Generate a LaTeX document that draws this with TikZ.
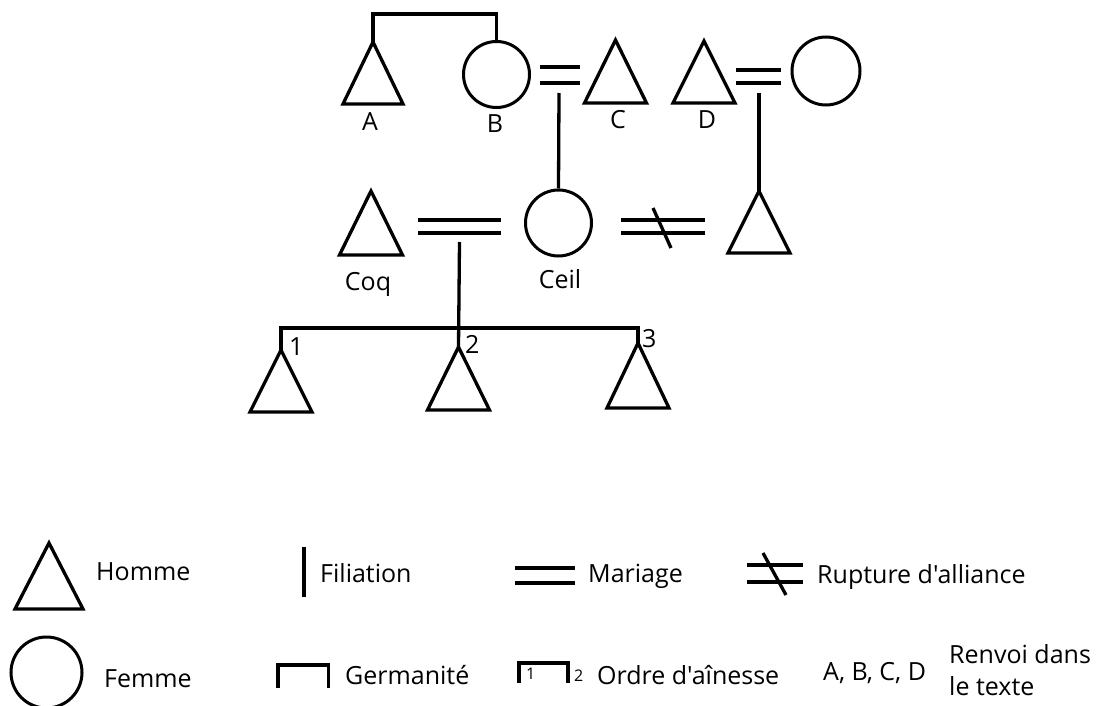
\documentclass[tikz,border=0pt]{standalone}
\usepackage{fontspec}
\setmainfont{Open Sans}[Ligatures=TeXOff]
\usetikzlibrary{calc}
\newcommand\homme[5]{% name, apex x, apex y, base width, height
  \coordinate (#1) at (#2,#3);
  \draw[sym] (#1) -- ++(-#4/2,#5) -- ++(#4,0) -- cycle;}
\newcommand\mariage[5]{% name, centre x, centre y, half width, half gap
  \coordinate (#1) at (#2,#3);
  \draw[sym] ([shift={(-#4,-#5)}]#1) -- ([shift={(#4,-#5)}]#1);
  \draw[sym] ([shift={(-#4,#5)}]#1) -- ([shift={(#4,#5)}]#1);}
\begin{document}
\begin{tikzpicture}[x=1pt,y=-1pt,
  sym/.style={draw=black, line width=3.3pt},
  femme/.style={circle, draw=black, line width=3pt, inner sep=0pt, minimum size=#1},
  femme/.default=66pt,
  lab/.style={font=\fontsize{25}{29}\selectfont, inner sep=0pt, anchor=base},
  leg/.style={font=\fontsize{25}{32}\selectfont, inner sep=0pt, anchor=base west, align=left},
  small/.style={font=\fontsize{16}{18}\selectfont, inner sep=0pt, anchor=base west}]
\useasboundingbox (0,0) rectangle (1096,706);
\fill[white] (0,0) rectangle (1096,706);

% ---- top generation
\homme{A}{373}{42}{60}{62}
\node[femme] (B) at (496.5,74.5) {};
\homme{C}{615.5}{40}{62}{63}
\homme{D}{704}{41}{62}{62}
\node[femme=68pt] (F) at (826,71) {};
\coordinate (topAB) at (0,14);
\draw[sym] (A) -- (A |- topAB) -| (B.north);
\mariage{mBC}{560}{75}{20}{8}
\mariage{mDF}{758.5}{76.5}{22.5}{6.5}

\node[lab] (lA) at (370,131) {A};
\node[lab] (lB) at (495,133) {B};
\node[lab] (lC) at (618,129) {C};
\node[lab] (lD) at (707,129) {D};

% ---- middle generation
\homme{Coq}{371}{191}{63}{64}
\node[femme] (Ceil) at (558.5,223) {};
\homme{E}{759}{191}{62}{62}
\mariage{mCC}{459.5}{226.5}{41.5}{6.5}
\mariage{mR}{663}{226.5}{42}{6.5}
\draw[sym] ([shift={(-10,-18.5)}]mR) -- ([shift={(8,21.5)}]mR);
\draw[sym] ([shift={(-1,18)}]mBC) -- (Ceil.north);
\draw[sym] ([shift={(0.5,16.5)}]mDF) -- (E);

\node[lab] (lCoq) at (368,290) {Coq};
\node[lab] (lCeil) at (560,288) {Ceil};

% ---- children
\homme{K1}{281}{350}{62}{62}
\homme{K2}{458.5}{347}{62}{63}
\homme{K3}{638}{343}{62}{65}
\coordinate (bar) at (0,328);
\draw[sym] (K1) -- (K1 |- bar) -- (K3 |- bar) -- (K3);
\draw[sym] ([shift={(0,15.5)}]mCC) -- (K2);
\node[lab, anchor=base west] (n1) at (289,355) {1};
\node[lab, anchor=base west] (n2) at (465,353) {2};
\node[lab, anchor=base west] (n3) at (642,347) {3};

% ---- legend
\homme{LH}{49}{543}{68}{66}
\node[leg] (tH) at (96,580) {Homme};
\coordinate (LFa) at (304,547);
\coordinate (LFb) at (304,597);
\draw[sym] (LFa) -- (LFb);
\node[leg] (tFil) at (320,582) {Filiation};
\mariage{LM}{545}{575.5}{30}{7.5}
\node[leg] (tM) at (588,582) {Mariage};
\mariage{LR}{775}{573.5}{28}{8.5}
\draw[sym] ([shift={(-12,-20.5)}]LR) -- ([shift={(11,21.5)}]LR);
\node[leg] (tR) at (817,583) {Rupture d'alliance};

\node[femme=71pt] (LF) at (46.5,672.5) {};
\node[leg] (tF) at (104,687) {Femme};
\coordinate (LGa) at (278,688);
\coordinate (LGb) at (328.5,688);
\draw[sym] (LGa) |- ($(LGa)!0.5!(LGb)+(0,-23)$) -| (LGb);
\node[leg] (tG) at (345,684) {Germanité};
\coordinate (LOa) at (519,683);
\coordinate (LOb) at (568,683);
\draw[sym] (LOa) |- ($(LOa)!0.5!(LOb)+(0,-20)$) -| (LOb);
\node[small] (o1) at (526,679) {1};
\node[small] (o2) at (574,681) {2};
\node[leg] (tO) at (597,684) {Ordre d'aînesse};
\node[leg] (tABCD) at (823,680) {A, B, C, D};
\node[leg] (tRen) at (949,695) {Renvoi dans\\le texte};
\end{tikzpicture}
\end{document}
